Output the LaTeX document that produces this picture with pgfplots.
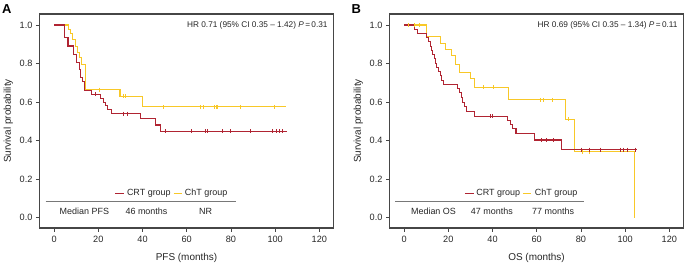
\documentclass[border=0pt]{standalone}
\usepackage{pgfplots}
\pgfplotsset{compat=1.18}
\usepackage{fontspec}
\setmainfont{Liberation Sans}
\definecolor{crt}{RGB}{176,36,50}
\definecolor{cht}{RGB}{248,200,40}
\definecolor{axgray}{RGB}{70,70,70}
\definecolor{tabline}{RGB}{120,120,120}

\pgfplotsset{kmstyle/.style={
  scale only axis, width=294bp, height=214bp,
  xmin=-6.6, xmax=126.4, ymin=-0.0535, ymax=1.057,
  xtick={0,20,40,60,80,100,120}, ytick={0,0.2,0.4,0.6,0.8,1.0},
  yticklabel style={/pgf/number format/.cd, fixed, fixed zerofill, precision=1},
  /pgf/number format/assume math mode=true,
  tick align=outside, major tick length=3.5bp,
  xtick pos=left, ytick pos=left,
  tick style={axgray, line width=0.8bp},
  axis line style={axgray, line width=1.2bp},
  ticklabel style={font=\fontsize{9.2}{10}\selectfont, text=black!85},
  xticklabel style={yshift=-1.5bp},
  label style={font=\fontsize{10}{12}\selectfont, text=black!85},
  xlabel style={yshift=-3bp},
  ylabel={Survival probability},
}}

\begin{document}
\begin{tikzpicture}[x=1bp,y=1bp]
\useasboundingbox (0,0) rectangle (685,263);

% ---------------- Panel A ----------------
\begin{axis}[kmstyle, at={(39.5bp,35bp)}, anchor=south west, xlabel={PFS (months)}]
\addplot[const plot, cht, line width=1.1bp] coordinates {
(0,1) (6.4,0.978) (7.3,0.955) (8.4,0.926) (9.8,0.89) (10.5,0.857) (11.5,0.83) (12.3,0.796)
(14.2,0.665) (29.8,0.63) (40.1,0.575) (104.7,0.575)};
\addplot[const plot, crt, line width=1.1bp] coordinates {
(0,1) (4.9,0.935) (6.3,0.891) (8.7,0.848) (10.2,0.804) (11.3,0.77) (12.0,0.727) (12.9,0.705)
(13.9,0.661) (16.8,0.64) (21.0,0.62) (22.2,0.60) (23.2,0.58) (24.2,0.56) (26.1,0.54)
(38.9,0.514) (45.8,0.481) (48.0,0.448) (105.5,0.448)};
\addplot[only marks, mark=|, mark size=2bp, cht, mark options={line width=0.6bp}] coordinates {
(20.5,0.665) (31.4,0.63) (32.4,0.63) (49.3,0.575) (66.2,0.575) (67.3,0.575) (72.3,0.575)
(73.2,0.575) (73.8,0.575) (84.1,0.575) (99.4,0.575)};
\addplot[only marks, mark=|, mark size=2bp, crt, mark options={line width=0.6bp}] coordinates {
(18.5,0.64) (31.3,0.54) (33.3,0.54) (50.3,0.448) (62.0,0.448) (68.5,0.448) (69.3,0.448)
(76.1,0.448) (79.9,0.448) (88.9,0.448) (98.8,0.448) (100.3,0.448) (101.8,0.448) (103.4,0.448)};
\node[anchor=east, font=\fontsize{8.3}{9}\selectfont, text=black!85] at (axis cs:125.3,1.0)
  {HR 0.71 (95\% CI 0.35 – 1.42) \textit{P}\,=\,0.31};
\draw[crt, line width=1.2bp] (axis cs:27.6,0.125) -- (axis cs:31.7,0.125);
\node[anchor=west, font=\fontsize{9}{10}\selectfont, inner sep=0pt, text=black!85] at (axis cs:32.9,0.125) {CRT group};
\draw[cht, line width=1.2bp] (axis cs:54.1,0.125) -- (axis cs:57.9,0.125);
\node[anchor=west, font=\fontsize{9}{10}\selectfont, inner sep=0pt, text=black!85] at (axis cs:59.1,0.125) {ChT group};
\draw[tabline, line width=0.8bp] (axis cs:-3.8,0.085) -- (axis cs:82.1,0.085);
\node[font=\fontsize{9}{10}\selectfont, inner sep=0pt, text=black!85] at (axis cs:13.7,0.034) {Median PFS};
\node[font=\fontsize{9}{10}\selectfont, inner sep=0pt, text=black!85] at (axis cs:41.8,0.034) {46 months};
\node[font=\fontsize{9}{10}\selectfont, inner sep=0pt, text=black!85] at (axis cs:68.5,0.034) {NR};
\end{axis}

% ---------------- Panel B ----------------
\begin{axis}[kmstyle, at={(389.5bp,35bp)}, anchor=south west, xlabel={OS (months)}]
\addplot[const plot, cht, line width=1.1bp] coordinates {
(0,1) (10.0,0.938) (16.6,0.906) (18.6,0.875) (21.6,0.84) (23.1,0.795) (25.1,0.755)
(29.9,0.72) (31.7,0.677) (47.2,0.612) (72.9,0.51) (77.0,0.343) (104.2,0.0) (104.3,0.0)};
\addplot[const plot, crt, line width=1.1bp] coordinates {
(0,1) (4.7,0.978) (6.2,0.956) (10.0,0.934) (11.0,0.912) (11.8,0.890) (12.4,0.868)
(13.0,0.846) (13.6,0.824) (14.2,0.802) (14.8,0.780) (15.6,0.758) (16.4,0.736) (16.9,0.714)
(17.8,0.692) (24.0,0.670) (24.9,0.648) (25.8,0.626) (26.6,0.600) (27.3,0.575) (28.4,0.550)
(31.8,0.527) (46.9,0.505) (48.0,0.484) (49.2,0.462) (50.6,0.436) (58.9,0.403) (71.0,0.353)
(105.4,0.353)};
\addplot[only marks, mark=|, mark size=2bp, cht, mark options={line width=0.6bp}] coordinates {
(2.0,1) (4.5,1) (7.0,1) (36.0,0.677) (40.5,0.677) (61.5,0.612) (63.0,0.612) (66.9,0.612)
(74.3,0.51) (80.5,0.343) (83.8,0.343)};
\addplot[only marks, mark=|, mark size=2bp, crt, mark options={line width=0.6bp}] coordinates {
(38.9,0.527) (39.8,0.527) (61.9,0.403) (64.3,0.403) (67.5,0.403) (80.2,0.353) (83.9,0.353)
(88.8,0.353) (97.8,0.353) (99.3,0.353) (100.9,0.353) (104.6,0.353)};
\node[anchor=east, font=\fontsize{8.3}{9}\selectfont, text=black!85] at (axis cs:125.3,1.0)
  {HR 0.69 (95\% CI 0.35 – 1.34) \textit{P}\,=\,0.11};
\draw[crt, line width=1.2bp] (axis cs:27.5,0.125) -- (axis cs:31.4,0.125);
\node[anchor=west, font=\fontsize{9}{10}\selectfont, inner sep=0pt, text=black!85] at (axis cs:32.6,0.125) {CRT group};
\draw[cht, line width=1.2bp] (axis cs:53.7,0.125) -- (axis cs:57.3,0.125);
\node[anchor=west, font=\fontsize{9}{10}\selectfont, inner sep=0pt, text=black!85] at (axis cs:59.1,0.125) {ChT group};
\draw[tabline, line width=0.8bp] (axis cs:-4.1,0.085) -- (axis cs:81.5,0.085);
\node[font=\fontsize{9}{10}\selectfont, inner sep=0pt, text=black!85] at (axis cs:13.3,0.034) {Median OS};
\node[font=\fontsize{9}{10}\selectfont, inner sep=0pt, text=black!85] at (axis cs:39.7,0.034) {47 months};
\node[font=\fontsize{9}{10}\selectfont, inner sep=0pt, text=black!85] at (axis cs:67.4,0.034) {77 months};
\end{axis}

\node[anchor=base west, font=\bfseries\fontsize{13}{13}\selectfont, inner sep=0pt] at (2,250) {A};
\node[anchor=base west, font=\bfseries\fontsize{13}{13}\selectfont, inner sep=0pt] at (351.5,250) {B};
\end{tikzpicture}
\end{document}
